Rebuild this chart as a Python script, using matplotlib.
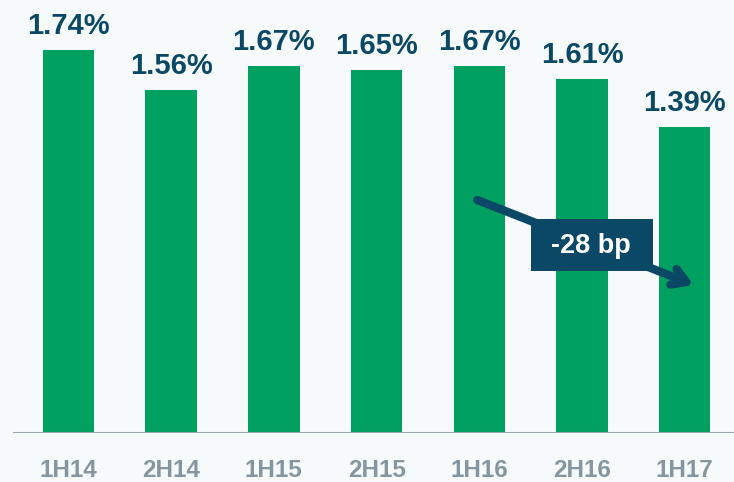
import matplotlib.pyplot as plt
from matplotlib.patches import Rectangle

periods = ['1H14', '2H14', '1H15', '2H15', '1H16', '2H16', '1H17']
ratios = [1.74, 1.56, 1.67, 1.65, 1.67, 1.61, 1.39]
change_label = '-28 bp'

green = '#00a060'
navy = '#0b4866'
bg = '#f7fafa'

plt.rcParams['font.family'] = ['Liberation Sans', 'DejaVu Sans']

fig = plt.figure(figsize=(7.34, 4.82), dpi=100, facecolor=bg)
ax = fig.add_axes([13/734, 49/482, 721/734, 433/482], facecolor=bg)

x = range(len(periods))
ax.bar(x, ratios, width=0.5, color=green, zorder=2)
for i, v in enumerate(ratios):
    ax.text(i, v + 0.045, f'{v:.2f}%', ha='center', va='bottom',
            fontsize=21, fontweight='bold', color=navy)

ax.set_xlim(-0.54, 6.48)
ax.set_ylim(0, 1.968)
ax.axhline(0, color='#9aa4ae', lw=2.2, zorder=3)

# trend arrow with label box
ax.annotate('', xy=(6.09, 0.673), xytext=(3.98, 1.059),
            arrowprops=dict(arrowstyle='->, head_length=1.0, head_width=0.6',
                            color=navy, lw=6, shrinkA=0, shrinkB=0),
            zorder=4)
ax.add_patch(Rectangle((4.50, 0.736), 1.19, 0.237, fc=navy, ec='none', zorder=5))
ax.text(5.09, 0.852, change_label, ha='center', va='center', fontsize=19.5,
        fontweight='bold', color='white', zorder=6)

ax.set_xticks(list(x))
ax.set_xticklabels(periods, fontsize=17.5, fontweight='bold', color='#8696a0')
ax.tick_params(axis='x', length=0, pad=19)
ax.set_yticks([])
for s in ax.spines.values():
    s.set_visible(False)

fig.savefig('out.png', dpi=100, facecolor=bg)
